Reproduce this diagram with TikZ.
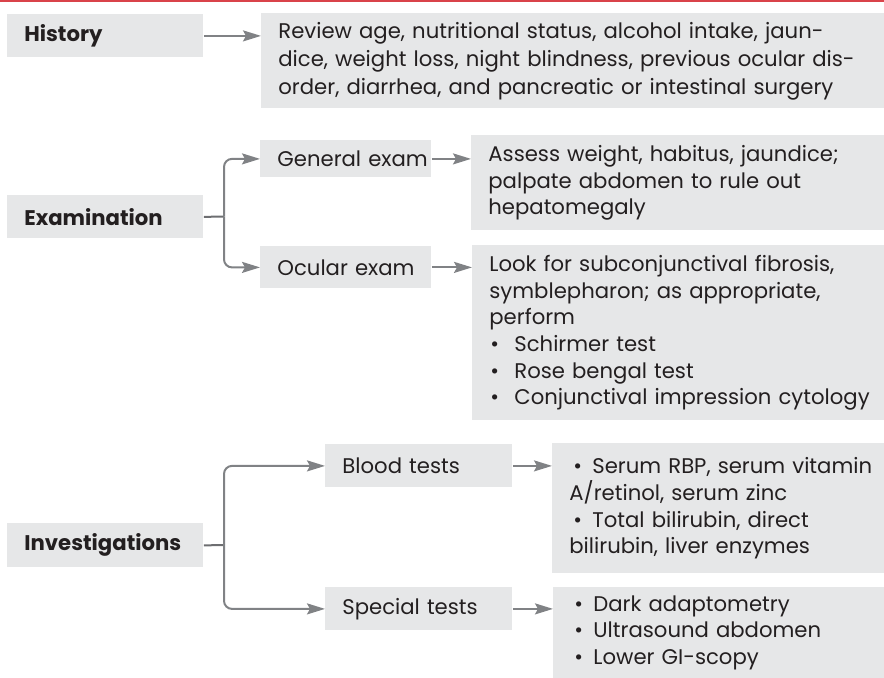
\documentclass[tikz,border=0pt]{standalone}
\usepackage{fontspec}
\setmainfont{Poppins}
\usetikzlibrary{arrows.meta}
\definecolor{boxgray}{HTML}{E6E7E8}
\definecolor{txtgray}{HTML}{231F20}
\definecolor{arrowgray}{HTML}{808285}
\definecolor{stemgray}{HTML}{6D6E71}
\definecolor{rulered}{HTML}{D9434A}
\newcommand{\lbul}{\makebox[12.5pt][l]{\hspace{0.5pt}\textbullet}}
\newcommand{\rbul}{\makebox[11.5pt][l]{\hspace{2pt}\textbullet}}
\begin{document}
\begin{tikzpicture}[x=0.5pt,y=-0.5pt,font=\fontsize{10.6}{13.3}\selectfont]
        \tikzstyle{box}=[anchor=north west,fill=boxgray,text=txtgray,inner xsep=8.5pt,inner ysep=0pt,align=left]
        \tikzstyle{head}=[box,font=\fontsize{10.6}{13.3}\selectfont\bfseries,text width=81pt]
        \tikzstyle{edge}=[draw=arrowgray,line width=1pt,-{Stealth[length=9pt,width=5.5pt,inset=1.5pt]},arrowgray]
        \tikzstyle{stem}=[draw=stemgray,line width=1pt]
        \useasboundingbox (0,0) rectangle (884,678);
        \fill[rulered] (0,0) rectangle (884,2.5);
       \begin{scope}
         \node [head,minimum height=21.5pt] (hist) at (7,14) {History};
         \node [head,minimum height=21.5pt] (exam) at (7,195) {Examination};
         \node [head,minimum height=22pt] (inv) at (7,523) {Investigations};

         \node [box,text width=68.5pt,minimum height=18.5pt] (gen) at (260,140) {\mbox{General exam}};
         \node [box,text width=68.5pt,minimum height=21pt] (ocu) at (260,246) {\mbox{Ocular exam}};
         \node [box,text width=76.5pt,minimum height=21.5pt] (blood) at (325,444) {\mbox{Blood tests}};
         \node [box,text width=76.5pt,minimum height=21.5pt] (spec) at (325,587) {\mbox{Special tests}};

         % right column runs off the page edge
         \node [box,text width=314.5pt,minimum height=47.5pt,font=\fontsize{10.6}{14}\selectfont] (review) at (261,13)
           {Review age, nutritional status, alcohol intake, jaun-\\dice, weight loss, night blindness, previous ocular dis-\\order, diarrhea, and pancreatic or intestinal surgery};
         \node [box,text width=209.5pt,minimum height=47.5pt] (assess) at (471,135)
           {Assess weight, habitus, jaundice;\\palpate abdomen to rule out\\hepatomegaly};
         \node [box,text width=209pt,minimum height=87.5pt] (look) at (472,245)
           {Look for subconjunctival fibrosis,\\symblepharon; as appropriate,\\perform\\\lbul Schirmer test\\\lbul Rose bengal test\\\lbul Conjunctival impression cytology};
         \node [box,text width=169pt,minimum height=65pt] (bres) at (552,443)
           {\rbul Serum RBP, serum vitamin\\A/retinol, serum zinc\\\rbul Total bilirubin, direct\\bilirubin, liver enzymes};
         \node [box,text width=168.5pt,minimum height=45.5pt] (sres) at (553,587)
           {\rbul Dark adaptometry\\\rbul Ultrasound abdomen\\\rbul Lower GI-scopy};

         \coordinate (ex) at (224,216.5);
         \coordinate (iv) at (224,545);

         \path[edge] (hist.east) -- (hist.east -| review.west);
         \path[stem] (exam.east) -- (ex);
         \path[edge,rounded corners=4pt] (ex) |- (gen.west);
         \path[edge,rounded corners=4pt] (ex) |- (ocu.west);
         \path[stem] (inv.east) -- (iv);
         \path[edge,rounded corners=4pt] (iv) |- (blood.west);
         \path[edge,rounded corners=4pt] (iv) |- (spec.west);

         \path[edge] (gen.east) -- (gen.east -| assess.west);
         \path[edge] (ocu.east) -- (ocu.east -| look.west);
         \path[edge] (blood.east) -- (blood.east -| bres.west);
         \path[edge] (spec.east) -- (spec.east -| sres.west);
        \end{scope}
\end{tikzpicture}
\end{document}
